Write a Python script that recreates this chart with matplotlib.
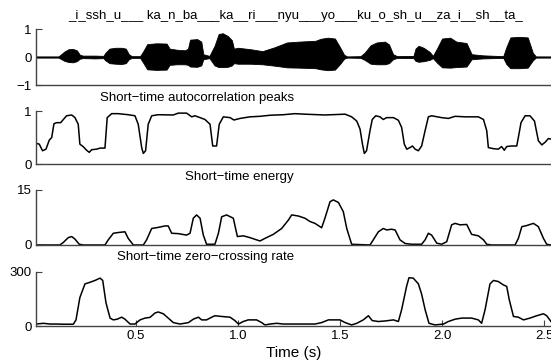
import numpy as np
import matplotlib
matplotlib.use('Agg')
import matplotlib.pyplot as plt

plt.rcParams['font.family'] = ['Liberation Sans', 'DejaVu Sans']
plt.rcParams['font.size'] = 9.5

# labels
phones = '_i_ssh_u___ ka_n_ba___ka__ri___nyu___yo___ku_o_sh_u__za_i__sh__ta_'
titles = ['Short\u2212time autocorrelation peaks', 'Short\u2212time energy',
          'Short\u2212time zero\u2212crossing rate']
time_ticks = [0.5, 1.0, 1.5, 2.0, 2.5]

# speech waveform envelope
wave_t = [0.00, 0.12, 0.13, 0.15, 0.17, 0.19, 0.21, 0.225, 0.24, 0.30, 0.34, 0.35,
          0.37, 0.40, 0.43, 0.45, 0.465, 0.48, 0.52, 0.535, 0.555, 0.60, 0.65, 0.665,
          0.70, 0.74, 0.755, 0.765, 0.80, 0.82, 0.83, 0.86, 0.885, 0.905, 0.925, 0.95,
          0.97, 0.98, 1.00, 1.06, 1.12, 1.18, 1.24, 1.30, 1.38, 1.405, 1.44, 1.475,
          1.50, 1.52, 1.535, 1.60, 1.62, 1.65, 1.68, 1.72, 1.74, 1.76, 1.78, 1.86,
          1.87, 1.885, 1.91, 1.94, 1.955, 1.975, 2.00, 2.04, 2.07, 2.12, 2.145, 2.20,
          2.30, 2.315, 2.335, 2.38, 2.42, 2.445, 2.46, 2.54]
wave_hi = [0.02, 0.02, 0.08, 0.20, 0.28, 0.29, 0.24, 0.08, 0.05, 0.05, 0.04, 0.15,
           0.30, 0.33, 0.33, 0.30, 0.10, 0.03, 0.03, 0.20, 0.46, 0.49, 0.48, 0.30,
           0.26, 0.24, 0.30, 0.62, 0.64, 0.55, 0.10, 0.04, 0.40, 0.82, 0.85, 0.75,
           0.60, 0.30, 0.33, 0.28, 0.21, 0.35, 0.52, 0.55, 0.58, 0.65, 0.69, 0.66,
           0.35, 0.08, 0.02, 0.03, 0.15, 0.42, 0.52, 0.55, 0.45, 0.10, 0.03, 0.04,
           0.30, 0.40, 0.33, 0.18, 0.04, 0.30, 0.66, 0.69, 0.55, 0.50, 0.10, 0.06,
           0.03, 0.35, 0.70, 0.72, 0.70, 0.15, 0.02, 0.02]
wave_lo = [-0.02, -0.02, -0.06, -0.14, -0.18, -0.19, -0.15, -0.06, -0.04, -0.05, -0.04, -0.12,
           -0.22, -0.24, -0.25, -0.22, -0.08, -0.03, -0.03, -0.20, -0.44, -0.46, -0.45, -0.28,
           -0.26, -0.26, -0.28, -0.34, -0.35, -0.30, -0.08, -0.04, -0.30, -0.36, -0.36, -0.35,
           -0.30, -0.22, -0.24, -0.24, -0.26, -0.31, -0.37, -0.38, -0.40, -0.44, -0.47, -0.45,
           -0.25, -0.06, -0.02, -0.03, -0.10, -0.24, -0.26, -0.26, -0.22, -0.08, -0.03, -0.04,
           -0.14, -0.17, -0.15, -0.10, -0.04, -0.20, -0.37, -0.38, -0.36, -0.34, -0.08, -0.05,
           -0.03, -0.25, -0.40, -0.40, -0.38, -0.12, -0.02, -0.02]

# short-time autocorrelation peaks
ac_t = [0.010, 0.026, 0.042, 0.059, 0.075, 0.087, 0.098, 0.111, 0.131, 0.144, 0.160,
        0.185, 0.201, 0.217, 0.225, 0.242, 0.258, 0.271, 0.283, 0.307, 0.324, 0.348,
        0.359, 0.381, 0.413, 0.462, 0.495, 0.511, 0.528, 0.536, 0.547, 0.560, 0.577,
        0.609, 0.683, 0.707, 0.748, 0.773, 0.789, 0.814, 0.838, 0.863, 0.876, 0.895,
        0.908, 0.928, 0.961, 0.980, 1.010, 1.059, 1.108, 1.157, 1.222, 1.279, 1.328,
        1.426, 1.525, 1.557, 1.582, 1.598, 1.610, 1.619, 1.630, 1.647, 1.658, 1.675,
        1.696, 1.712, 1.728, 1.762, 1.786, 1.802, 1.815, 1.827, 1.843, 1.855, 1.868,
        1.884, 1.900, 1.917, 1.933, 1.949, 1.998, 2.031, 2.064, 2.113, 2.178, 2.203,
        2.219, 2.227, 2.251, 2.276, 2.292, 2.305, 2.317, 2.341, 2.366, 2.374, 2.387,
        2.407, 2.431, 2.453, 2.472, 2.489, 2.505, 2.521, 2.534]
ac_val = [0.39, 0.375, 0.25, 0.28, 0.45, 0.50, 0.76, 0.78, 0.78, 0.84, 0.91,
          0.925, 0.875, 0.75, 0.375, 0.325, 0.26, 0.22, 0.27, 0.28, 0.30, 0.30,
          0.875, 0.95, 0.95, 0.93, 0.91, 0.75, 0.31, 0.20, 0.25, 0.75, 0.91,
          0.93, 0.925, 0.96, 0.96, 0.89, 0.91, 0.875, 0.84, 0.75, 0.34, 0.34,
          0.75, 0.89, 0.875, 0.83, 0.86, 0.89, 0.90, 0.92, 0.93, 0.95, 0.94,
          0.925, 0.94, 0.89, 0.81, 0.66, 0.375, 0.20, 0.25, 0.63, 0.84, 0.91,
          0.89, 0.84, 0.875, 0.875, 0.825, 0.69, 0.375, 0.28, 0.31, 0.34, 0.28,
          0.25, 0.34, 0.63, 0.89, 0.91, 0.875, 0.86, 0.90, 0.89, 0.89, 0.84,
          0.63, 0.31, 0.29, 0.28, 0.33, 0.26, 0.33, 0.34, 0.34, 0.50, 0.78,
          0.91, 0.91, 0.81, 0.44, 0.36, 0.41, 0.48, 0.47]

# short-time energy
en_t = [0.010, 0.127, 0.144, 0.168, 0.185, 0.201, 0.222, 0.242, 0.348, 0.364, 0.389,
        0.413, 0.446, 0.462, 0.487, 0.536, 0.552, 0.577, 0.609, 0.642, 0.658, 0.675,
        0.707, 0.748, 0.765, 0.781, 0.797, 0.814, 0.830, 0.846, 0.887, 0.904, 0.920,
        0.944, 0.977, 0.997, 1.026, 1.059, 1.091, 1.108, 1.132, 1.173, 1.214, 1.247,
        1.263, 1.296, 1.328, 1.353, 1.377, 1.410, 1.426, 1.451, 1.467, 1.492, 1.516,
        1.533, 1.557, 1.647, 1.663, 1.688, 1.712, 1.729, 1.752, 1.770, 1.794, 1.819,
        1.851, 1.900, 1.917, 1.933, 1.949, 1.974, 1.998, 2.023, 2.047, 2.064, 2.088,
        2.121, 2.145, 2.178, 2.203, 2.219, 2.243, 2.358, 2.374, 2.391, 2.415, 2.448,
        2.472, 2.497, 2.513, 2.534]
en_val = [0.0, 0.0, 0.7, 2.0, 2.3, 1.6, 0.2, 0.0, 0.0, 1.4, 3.2,
          3.4, 3.6, 1.8, 0.0, 0.0, 1.4, 4.5, 4.8, 5.2, 5.2, 3.2,
          3.1, 2.7, 3.2, 7.3, 8.2, 7.3, 2.7, 0.2, 0.2, 3.2, 7.7,
          8.2, 7.3, 2.3, 2.5, 2.0, 1.4, 1.1, 1.8, 2.9, 4.5, 6.8,
          8.2, 7.9, 7.3, 6.4, 5.9, 4.7, 7.3, 11.8, 12.3, 11.6, 9.1,
          4.5, 0.2, 0.0, 1.4, 3.6, 4.5, 4.1, 4.3, 4.1, 1.4, 0.4,
          0.2, 0.2, 1.4, 3.2, 2.7, 0.5, 0.2, 0.9, 5.5, 5.9, 5.5,
          5.6, 2.9, 2.5, 1.4, 0.2, 0.0, 0.0, 1.8, 5.0, 5.3, 5.9,
          5.0, 1.8, 0.2, 0.0]

# short-time zero-crossing rate
zc_t = [0.010, 0.046, 0.078, 0.111, 0.144, 0.193, 0.206, 0.225, 0.250, 0.275, 0.299,
        0.324, 0.337, 0.353, 0.373, 0.389, 0.408, 0.430, 0.446, 0.471, 0.495, 0.520,
        0.544, 0.569, 0.593, 0.609, 0.634, 0.658, 0.683, 0.716, 0.757, 0.781, 0.806,
        0.822, 0.846, 0.871, 0.887, 0.920, 0.961, 0.985, 1.002, 1.026, 1.050, 1.091,
        1.116, 1.132, 1.157, 1.190, 1.222, 1.279, 1.377, 1.410, 1.443, 1.500, 1.525,
        1.557, 1.582, 1.614, 1.639, 1.658, 1.688, 1.721, 1.762, 1.786, 1.802, 1.827,
        1.838, 1.859, 1.884, 1.900, 1.917, 1.936, 1.966, 2.007, 2.031, 2.064, 2.097,
        2.145, 2.178, 2.194, 2.211, 2.235, 2.252, 2.276, 2.301, 2.317, 2.329, 2.350,
        2.374, 2.399, 2.431, 2.464, 2.497, 2.513, 2.534]
zc_val = [11, 15, 11, 11, 10, 10, 34, 158, 234, 243, 253,
          266, 253, 129, 44, 34, 38, 49, 38, 11, 11, 34,
          44, 48, 72, 78, 68, 44, 19, 11, 19, 38, 49,
          34, 34, 49, 57, 53, 49, 30, 11, 25, 34, 34,
          19, 6, 11, 15, 11, 11, 11, 19, 34, 34, 19,
          6, 15, 34, 57, 30, 25, 28, 34, 25, 91, 224,
          268, 266, 234, 177, 91, 15, 6, 11, 25, 38, 44,
          44, 34, 15, 91, 234, 253, 247, 228, 220, 148, 53,
          49, 34, 44, 57, 68, 57, 25]

fig = plt.figure(figsize=(5.51, 3.63), dpi=100)

x_left = 36 / 551
w = 1.0 - x_left
xlim = (0.01, 2.534)
line_kw = dict(color='black', lw=1.1)

ax1 = fig.add_axes([x_left, 0.7658, w, 0.1543])
ax2 = fig.add_axes([x_left, 0.5482, w, 0.1460])
ax3 = fig.add_axes([x_left, 0.3251, w, 0.1515])
ax4 = fig.add_axes([x_left, 0.1019, w, 0.1488])

ax1.fill_between(wave_t, wave_lo, wave_hi, color='black', lw=0.6)
ax1.plot(wave_t, np.zeros(len(wave_t)), color='black', lw=0.9)
ax1.set_ylim(-1, 1)
ax1.set_yticks([-1, 0, 1])

ax2.plot(ac_t, ac_val, **line_kw)
ax2.set_ylim(0, 1)
ax2.set_yticks([0, 1])

ax3.plot(en_t, en_val, **line_kw)
ax3.set_ylim(0, 15)
ax3.set_yticks([0, 15])

ax4.plot(zc_t, zc_val, **line_kw)
ax4.set_ylim(0, 300)
ax4.set_yticks([0, 300])
ax4.set_xticks(time_ticks)
ax4.set_xticklabels(['%.1f' % v for v in time_ticks])
ax4.set_xlabel('Time (s)', fontsize=11, labelpad=3)

for ax in [ax1, ax2, ax3, ax4]:
    ax.set_xlim(*xlim)
    ax.spines['top'].set_visible(False)
    ax.spines['right'].set_visible(False)
    for s in ['left', 'bottom']:
        ax.spines[s].set_color('#444444')
        ax.spines[s].set_linewidth(1.0)
    ax.tick_params(direction='in', length=4, width=0.8, color='#444444',
                   labelsize=9.5, pad=3)
    ax.patch.set_alpha(0)
    if ax is not ax4:
        ax.set_xticks([])

fig.text(0.537, 0.956, phones, ha='center', va='center', fontsize=9.5)
for txt, ypx in zip(titles, [98, 177, 257]):
    fig.text(0.5336, 1 - ypx / 363, txt, ha='right', va='center', fontsize=9.5)

fig.savefig('out.png', dpi=100)
